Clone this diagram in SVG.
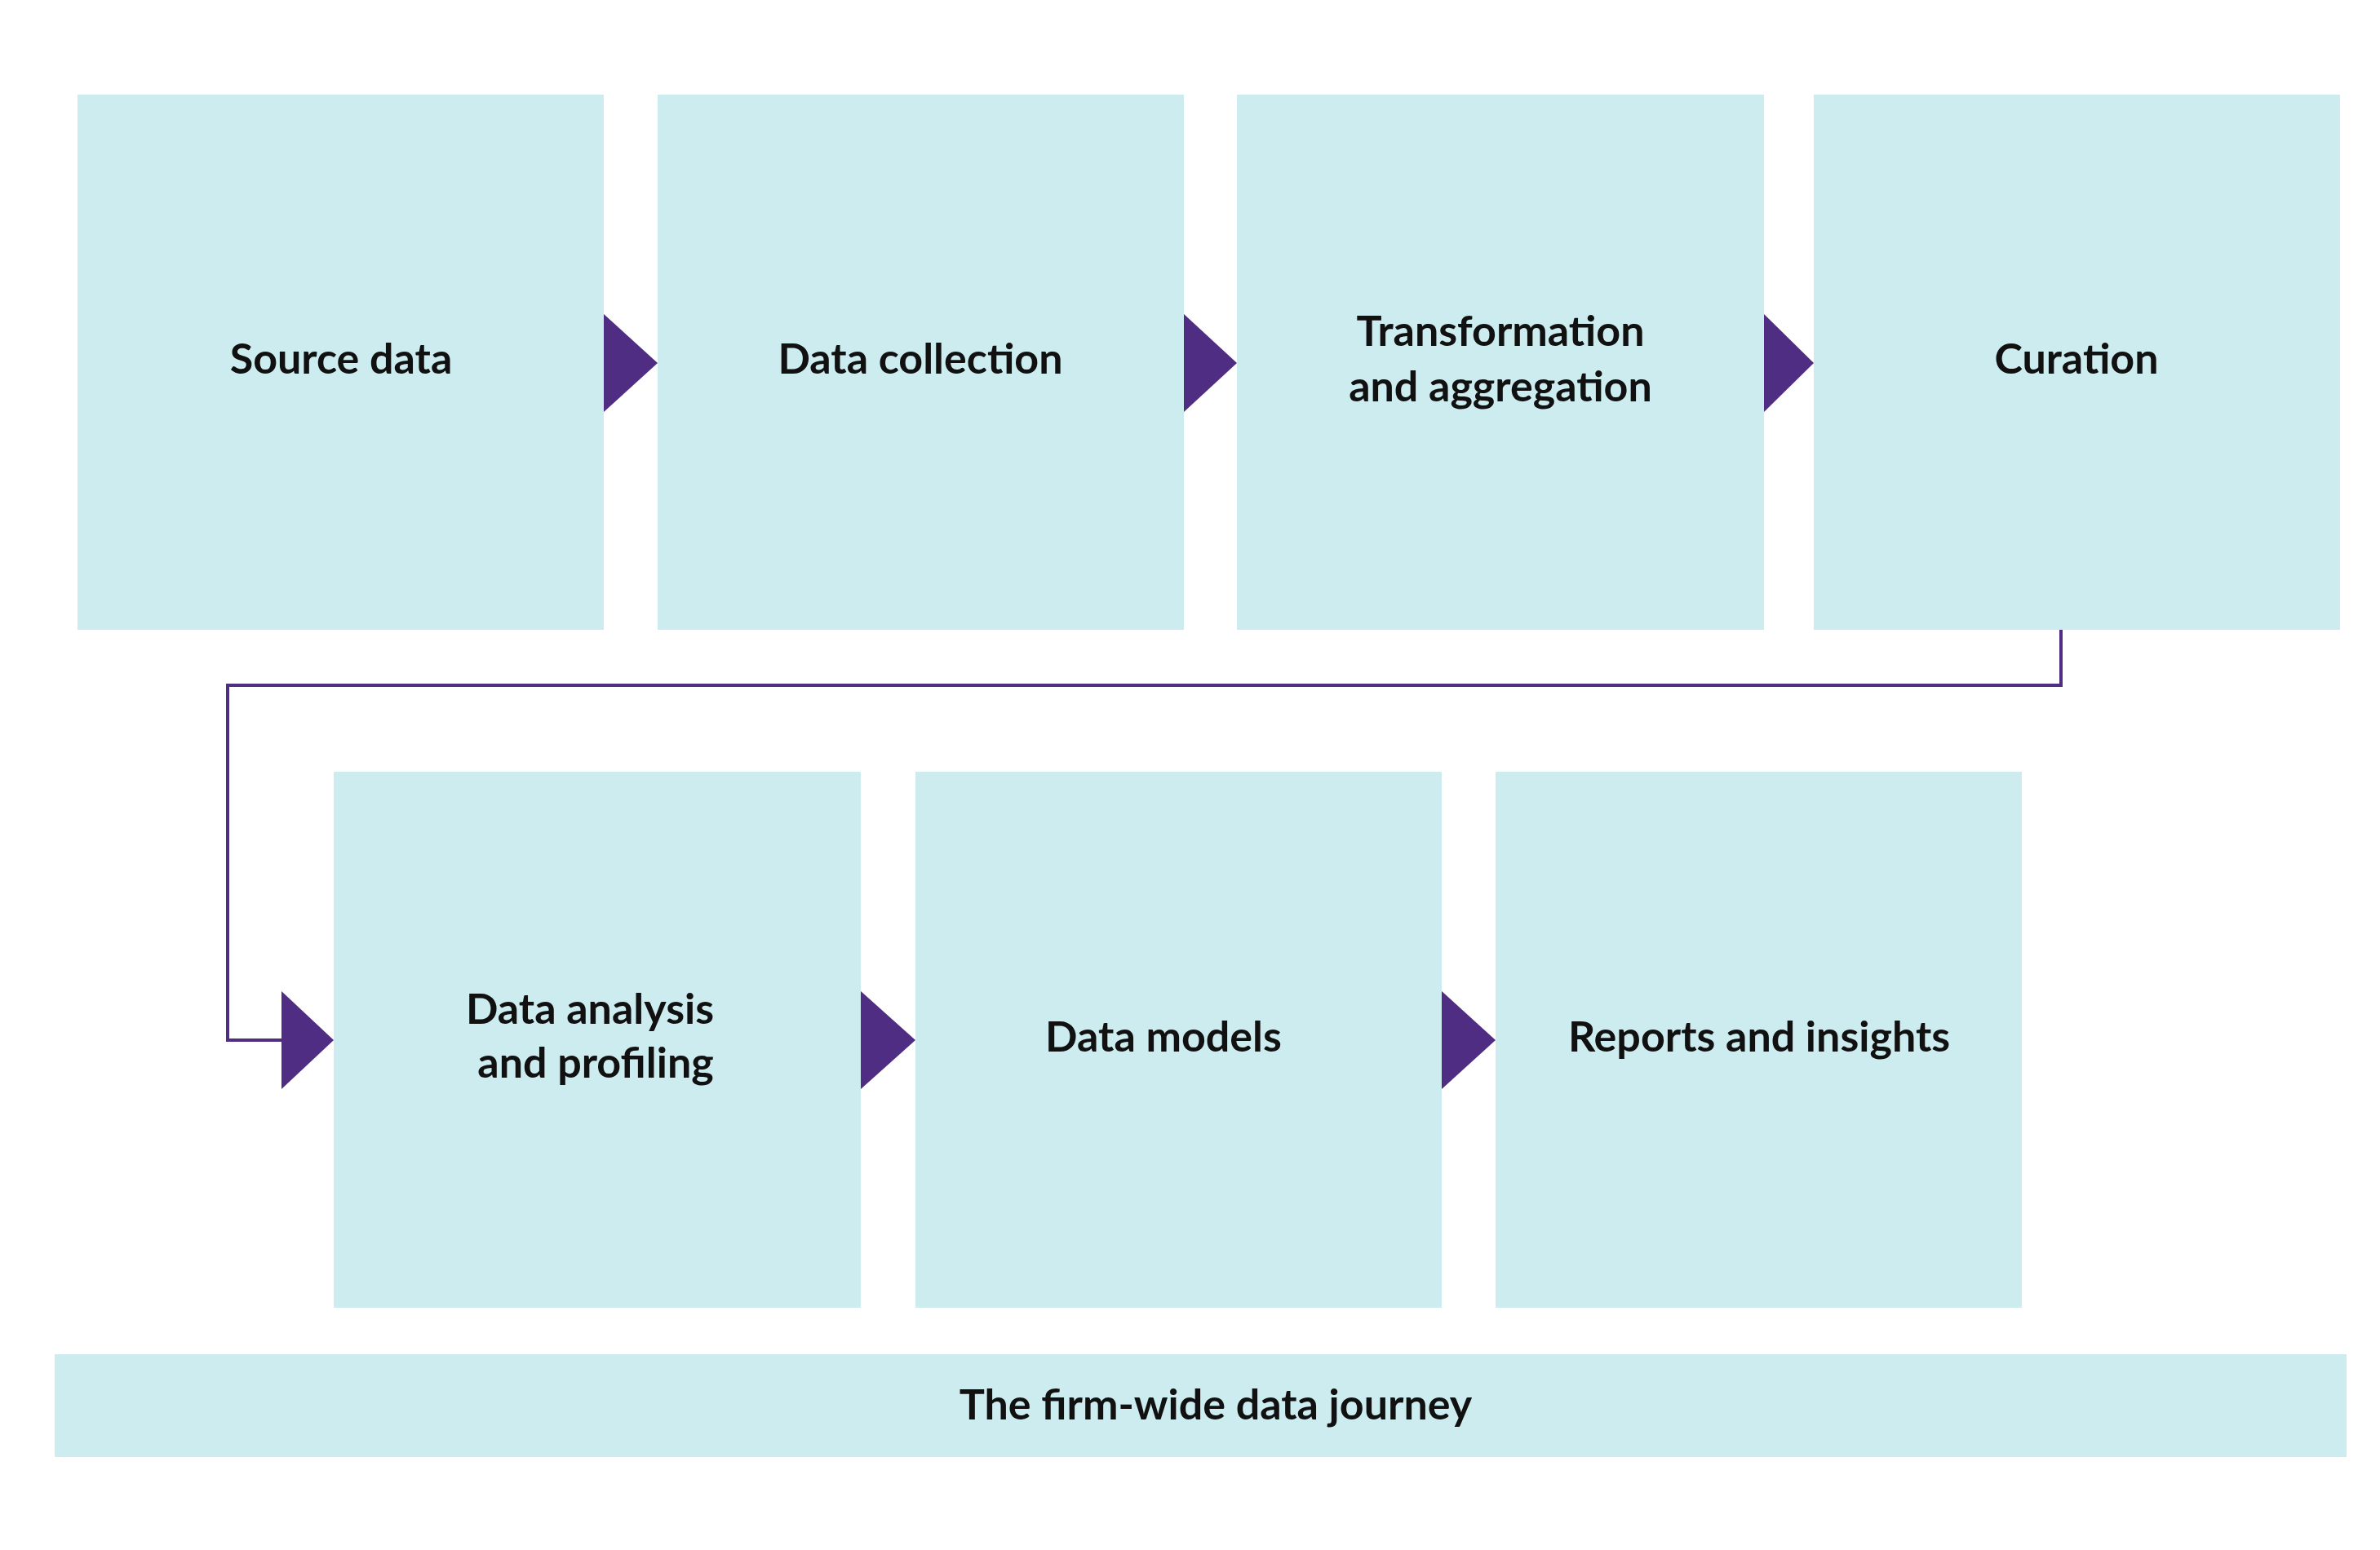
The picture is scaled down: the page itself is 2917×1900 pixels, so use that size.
<svg xmlns="http://www.w3.org/2000/svg" width="2917" height="1900" viewBox="0 0 2917 1900">
<style>
.b{fill:#CDECEF}
.a{fill:#4E2D82}
.t{font-family:Lato,"Liberation Sans",sans-serif;font-weight:bold;font-size:52px;fill:#111;text-anchor:middle}
</style>
<rect width="2917" height="1900" fill="#fff"/>
<g id="connectors">
<polyline points="2526,772 2526,840 279,840 279,1275 346,1275" fill="none" stroke="#4E2D82" stroke-width="4"/>
<polygon class="a" points="740,385 806,445 740,505"/>
<polygon class="a" points="1451,385 1516,445 1451,505"/>
<polygon class="a" points="2162,385 2223,445 2162,505"/>
<polygon class="a" points="345,1215 409,1275 345,1335"/>
<polygon class="a" points="1055,1215 1122,1275 1055,1335"/>
<polygon class="a" points="1767,1215 1833,1275 1767,1335"/>
</g>
<g id="n1"><rect class="b" x="95" y="116" width="645" height="656"/><text class="t" x="418" y="458">Source data</text></g>
<g id="n2"><rect class="b" x="806" y="116" width="645" height="656"/><text class="t" x="1128" y="458">Data collection</text></g>
<g id="n3"><rect class="b" x="1516" y="116" width="646" height="656"/><text class="t" x="1839" y="424">Transformation</text><text class="t" x="1839" y="492">and aggregation</text></g>
<g id="n4"><rect class="b" x="2223" y="116" width="645" height="656"/><text class="t" x="2545" y="458">Curation</text></g>
<g id="n5"><rect class="b" x="409" y="946" width="646" height="657"/><text class="t" x="723" y="1255">Data analysis</text><text class="t" x="730" y="1321">and profiling</text></g>
<g id="n6"><rect class="b" x="1122" y="946" width="645" height="657"/><text class="t" x="1426" y="1289">Data models</text></g>
<g id="n7"><rect class="b" x="1833" y="946" width="645" height="657"/><text class="t" x="2156" y="1289">Reports and insights</text></g>
<g id="n8"><rect class="b" x="67" y="1660" width="2809" height="126"/><text class="t" x="1490" y="1740">The firm-wide data journey</text></g>
</svg>
